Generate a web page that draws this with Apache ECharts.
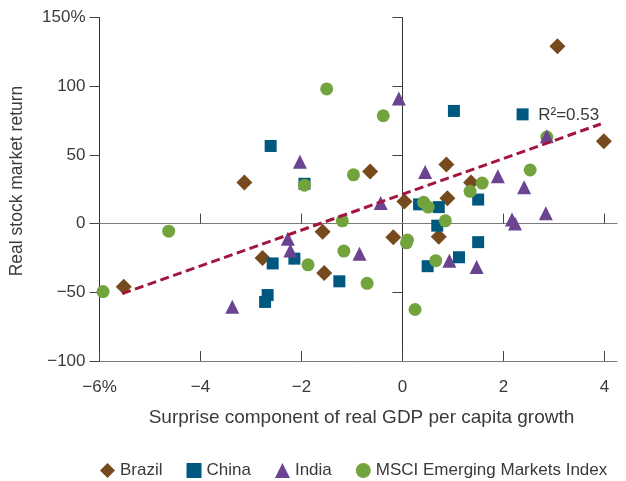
<!DOCTYPE html>
<html>
<head>
<meta charset="utf-8">
<script src="https://cdn.jsdelivr.net/npm/echarts@6/dist/echarts.min.js"></script>
<style>
  html, body { margin: 0; padding: 0; background: #ffffff; }
  #chart { width: 626px; height: 481px; }
</style>
</head>
<body>
<div id="chart"></div>
<script>
// Surprise component of real GDP per capita growth (%) vs real stock market return (%)
const brazil = [
  [3.07, 129], [3.99, 60], [-0.64, 38], [0.87, 43], [1.36, 30], [-3.13, 30],
  [0.04, 16], [0.89, 18.5], [-1.58, -6], [-2.77, -25], [-1.55, -36],
  [-5.52, -46], [0.72, -9.5], [-0.18, -10]
];
const china = [
  [-2.61, 56.5], [-1.94, 29], [1.02, 82], [2.38, 79.5], [0.33, 14], [0.72, 12],
  [1.50, 17.5], [0.69, -1.5], [1.50, -13.5], [1.12, -24.5], [0.50, -31],
  [-2.57, -29], [-2.14, -25.5], [-1.25, -42], [-2.67, -52], [-2.72, -57]
];
const india = [
  [-2.03, 45], [-0.07, 91], [2.86, 63.5], [0.45, 37.5], [1.89, 34.5], [2.41, 26.5],
  [-0.43, 15], [2.84, 7.5], [2.17, 3], [2.23, 0], [-2.27, -11], [-2.22, -19.5],
  [-0.85, -22], [0.93, -27], [1.47, -31.5], [-3.37, -60.5]
];
const msci = [
  [-1.50, 98], [-0.38, 78.5], [2.86, 63], [-0.97, 35.5], [-1.94, 28], [2.53, 39],
  [1.58, 29.5], [1.34, 23.5], [0.42, 15.5], [0.51, 12], [0.85, 2], [-1.19, 2],
  [-4.63, -5.5], [0.10, -12], [0.08, -14], [-1.16, -20], [-1.87, -30],
  [0.66, -27], [-0.70, -43.5], [0.25, -62.5], [-5.93, -49.5]
];
// Fitted regression line (end points)
const trend = [[-5.55, -51], [3.93, 72.5]];
const r2Text = 'R²=0.53';
const r2At = [2.69, 79];

const xTicks = [-6, -4, -2, 0, 2, 4];
const yTicks = [-100, -50, 0, 50, 100, 150];
const xZeroTicks = [-4, -2, 2, 4];
const yZeroTicks = [-50, 50, 100, 150];

const FONT = 'Liberation Sans, Arial, sans-serif';
const TEXT = '#3a3a3a';
const minus = (v) => String(v).replace('-', '\u2212');

const colors = {
  Brazil: '#764a1d',
  China: '#00587f',
  India: '#6a4391',
  MSCI: '#73a33d'
};

const chart = echarts.init(document.getElementById('chart'), null, { renderer: 'canvas' });

const xBase = { type: 'value', min: -6, max: 4.25, interval: 2, splitLine: { show: false } };
const yBase = { type: 'value', min: -100, max: 150, interval: 50, splitLine: { show: false } };

chart.setOption({
  animation: false,
  backgroundColor: '#ffffff',
  grid: { left: 99.5, right: 9, top: 17.5, bottom: 120, containLabel: false },
  xAxis: [
    Object.assign({}, xBase, {
      position: 'bottom',
      axisLine: { onZero: false, lineStyle: { color: '#7a7a7a', width: 1 } },
      axisTick: { inside: true, length: 10, customValues: xTicks, lineStyle: { color: '#444' } },
      axisLabel: {
        customValues: xTicks, margin: 18, fontSize: 17, fontFamily: FONT, color: TEXT,
        formatter: (v) => (v === -6 ? minus(v) + '%' : minus(v))
      }
    }),
    Object.assign({}, xBase, {
      position: 'bottom',
      axisLine: { onZero: true, onZeroAxisIndex: 0, lineStyle: { color: '#7a7a7a', width: 1 } },
      axisTick: { inside: true, length: 10, customValues: xZeroTicks, lineStyle: { color: '#444' } },
      axisLabel: { show: false }
    })
  ],
  yAxis: [
    Object.assign({}, yBase, {
      position: 'left',
      axisLine: { onZero: false, lineStyle: { color: '#333', width: 1 } },
      axisTick: { inside: false, length: 10, customValues: yTicks, lineStyle: { color: '#444' } },
      axisLabel: {
        customValues: yTicks, margin: 14, fontSize: 17, fontFamily: FONT, color: TEXT,
        formatter: (v) => (v === 150 ? v + '%' : minus(v))
      }
    }),
    Object.assign({}, yBase, {
      position: 'left',
      axisLine: { onZero: true, onZeroAxisIndex: 0, lineStyle: { color: '#333', width: 1 } },
      axisTick: { inside: false, length: 10, customValues: yZeroTicks, lineStyle: { color: '#444' } },
      axisLabel: { show: false }
    })
  ],
  legend: {
    data: [
      { name: 'Brazil', icon: 'diamond' },
      { name: 'China', icon: 'rect' },
      { name: 'India', icon: 'triangle' },
      { name: 'MSCI Emerging Markets Index', icon: 'circle' }
    ],
    left: 100, top: 462, padding: 0,
    itemWidth: 15, itemHeight: 15, itemGap: 24,
    textStyle: { fontSize: 17, fontFamily: FONT, color: TEXT }
  },
  graphic: [
    {
      type: 'text', x: 17, y: 181, rotation: Math.PI / 2,
      style: { text: 'Real stock market return', fontSize: 17.5, fontFamily: FONT, fill: TEXT,
               align: 'center', verticalAlign: 'middle' }
    },
    {
      type: 'text', x: 361.5, y: 418,
      style: { text: 'Surprise component of real GDP per capita growth', fontSize: 19, fontFamily: FONT,
               fill: TEXT, align: 'center', verticalAlign: 'middle' }
    }
  ],
  series: [
    {
      name: 'Brazil', type: 'scatter', data: brazil, symbol: 'diamond', symbolSize: 16,
      itemStyle: { color: colors.Brazil, opacity: 1 }, z: 3
    },
    {
      name: 'China', type: 'scatter', data: china, symbol: 'rect', symbolSize: 12,
      itemStyle: { color: colors.China, opacity: 1 }, z: 3
    },
    {
      name: 'MSCI Emerging Markets Index', type: 'scatter', data: msci, symbol: 'circle', symbolSize: 13,
      itemStyle: { color: colors.MSCI, opacity: 1 }, z: 3
    },
    {
      name: 'India', type: 'scatter', data: india, symbol: 'triangle', symbolSize: 14,
      itemStyle: { color: colors.India, opacity: 1 }, z: 3
    },
    {
      name: 'trend', type: 'line', data: trend, symbol: 'none', silent: true, z: 4,
      lineStyle: { color: '#a3173f', width: 3, type: [9, 4.5] },
      markPoint: {
        symbol: 'circle', symbolSize: 0, silent: true,
        data: [{ coord: r2At }],
        label: {
          show: true, formatter: r2Text, position: [0, 0], align: 'left', verticalAlign: 'middle',
          fontSize: 17, fontFamily: FONT, color: TEXT
        }
      }
    }
  ]
});
</script>
</body>
</html>
